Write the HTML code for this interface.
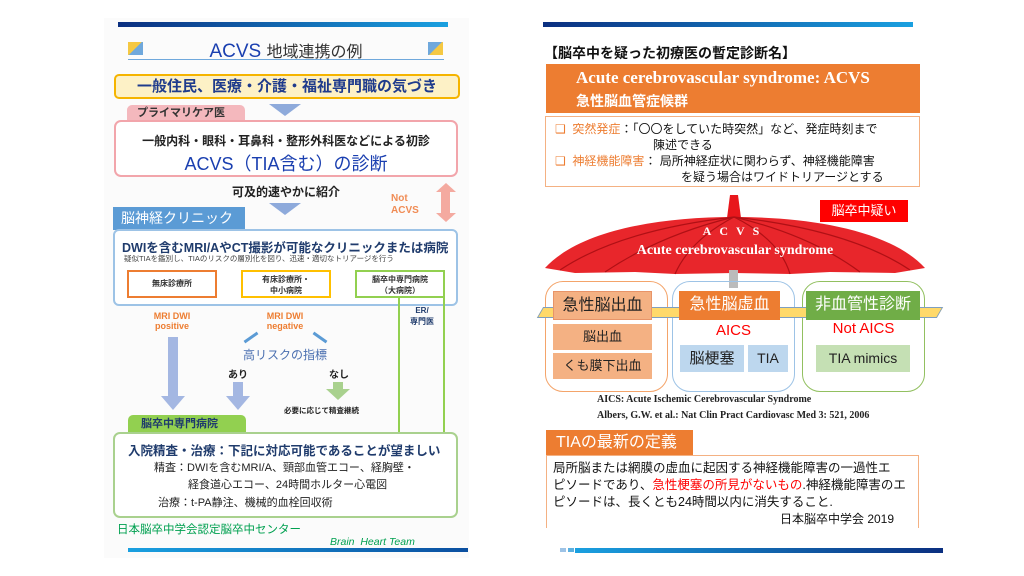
<!DOCTYPE html><html><head><meta charset="utf-8"><style>
*{margin:0;padding:0;box-sizing:border-box}
body{width:1024px;height:576px;background:#fff;position:relative;overflow:hidden;font-family:"Liberation Sans","Noto Sans CJK JP",sans-serif}
.a{position:absolute;white-space:nowrap}
.c{text-align:center}
.b{font-weight:bold}
.ser{font-family:"Liberation Serif","Noto Serif CJK SC",serif}
.dn{position:absolute;width:0;height:0;border-left:16px solid transparent;border-right:16px solid transparent;border-top:12px solid #8eaadb}
</style></head><body>
<!-- LEFT -->
<div class="a" style="left:104px;top:18px;width:365px;height:540px;background:#fbfbfb"></div>
<div class="a" style="left:118px;top:22px;width:330px;height:5px;background:linear-gradient(90deg,#0b2f80,#1aa0e0)"></div>
<div class="a" style="left:128px;top:42px;width:15px;height:13px;background:linear-gradient(135deg,#f5c842 50%,#6fa8dc 50%)"></div>
<div class="a" style="left:428px;top:42px;width:15px;height:13px;background:linear-gradient(135deg,#6fa8dc 50%,#f5c842 50%)"></div>
<div class="a c" style="left:128px;top:38px;width:316px;font-size:19px;color:#1a3fb0">ACVS <span style="color:#333;font-size:16px">地域連携の例</span></div>
<div class="a" style="left:128px;top:59px;width:316px;height:1px;background:#6fa8dc"></div>
<div class="a c b" style="left:114px;top:74px;width:346px;height:25px;background:#fdf1c6;border:2px solid #f5b400;border-radius:5px;font-size:15px;color:#1f3b8c;line-height:21px">一般住民、医療・介護・福祉専門職の気づき</div>
<div class="dn" style="left:269px;top:104px"></div>
<div class="a b" style="left:127px;top:105px;width:118px;height:16px;background:#f4b8bd;border-radius:5px 5px 0 0;font-size:11px;color:#333;padding-left:10px;line-height:16px">プライマリケア医</div>
<div class="a" style="left:114px;top:120px;width:344px;height:57px;border:2px solid #f2a5ab;border-radius:7px;background:#fff"></div>
<div class="a c b" style="left:114px;top:132px;width:344px;font-size:12px;color:#222">一般内科・眼科・耳鼻科・整形外科医などによる初診</div>
<div class="a c" style="left:114px;top:150px;width:344px;font-size:18px;color:#1a3fb0">ACVS（TIA含む）の診断</div>
<div class="a c b" style="left:114px;top:183px;width:344px;font-size:12px;color:#222">可及的速やかに紹介</div>
<div class="dn" style="left:269px;top:203px"></div>
<div class="a b" style="left:391px;top:193px;font-size:10px;color:#f08c55;line-height:12px">Not<br>ACVS</div>
<div class="a" style="left:441px;top:190px;width:9px;height:25px;background:#f4aaa0"></div>
<div class="a" style="left:436px;top:183px;border-left:10px solid transparent;border-right:10px solid transparent;border-bottom:9px solid #f4aaa0"></div>
<div class="a" style="left:436px;top:213px;border-left:10px solid transparent;border-right:10px solid transparent;border-top:9px solid #f4aaa0"></div>
<div class="a" style="left:113px;top:207px;width:132px;height:23px;background:#5b9bd5;color:#fff;font-size:14px;padding-left:8px;line-height:23px">脳神経クリニック</div>
<div class="a" style="left:113px;top:229px;width:345px;height:77px;border:2px solid #9dc3e6;border-radius:6px;background:#fff"></div>
<div class="a b" style="left:122px;top:237px;font-size:12.5px;color:#1f3b6c">DWIを含むMRI/AやCT撮影が可能なクリニックまたは病院</div>
<div class="a" style="left:124px;top:253px;font-size:7.5px;color:#444">疑似TIAを鑑別し、TIAのリスクの層別化を図り、迅速・適切なトリアージを行う</div>
<div class="a c b" style="left:127px;top:270px;width:90px;height:28px;border:2px solid #ed7d31;font-size:8px;line-height:24px;color:#333">無床診療所</div>
<div class="a c b" style="left:241px;top:270px;width:90px;height:28px;border:2px solid #ffc000;font-size:8px;line-height:11px;padding-top:2px;color:#333;background:#fff">有床診療所・<br>中小病院</div>
<div class="a c b" style="left:355px;top:270px;width:90px;height:28px;border:2px solid #92d050;font-size:8px;line-height:11px;padding-top:2px;color:#333;background:#fff">脳卒中専門病院<br>（大病院）</div>
<div class="a" style="left:398px;top:296px;width:2px;height:137px;background:#92d050"></div>
<div class="a" style="left:443px;top:296px;width:2px;height:137px;background:#92d050"></div>
<div class="a c b" style="left:402px;top:305px;width:40px;font-size:8px;line-height:11px;color:#1f3b6c">ER/<br>専門医</div>
<div class="a c b" style="left:142px;top:311px;width:60px;font-size:9px;line-height:10px;color:#ed7d31">MRI DWI<br>positive</div>
<div class="a c b" style="left:255px;top:311px;width:60px;font-size:9px;line-height:10px;color:#ed7d31">MRI DWI<br>negative</div>
<div class="a" style="left:168px;top:337px;width:10px;height:60px;background:#a4b7e2"></div>
<div class="a" style="left:161px;top:396px;border-left:12px solid transparent;border-right:12px solid transparent;border-top:14px solid #a4b7e2"></div>
<div class="a" style="left:233px;top:382px;width:10px;height:16px;background:#a4b7e2"></div>
<div class="a" style="left:226px;top:396px;border-left:12px solid transparent;border-right:12px solid transparent;border-top:14px solid #a4b7e2"></div>
<div class="a" style="left:333px;top:382px;width:10px;height:8px;background:#a9d18e"></div>
<div class="a" style="left:326px;top:389px;border-left:12px solid transparent;border-right:12px solid transparent;border-top:11px solid #a9d18e"></div>
<div class="a" style="left:243px;top:336px;width:16px;height:3px;background:#5b9bd5;transform:rotate(-35deg)"></div>
<div class="a" style="left:312px;top:336px;width:16px;height:3px;background:#5b9bd5;transform:rotate(35deg)"></div>
<div class="a c" style="left:225px;top:346px;width:120px;font-size:12px;color:#4a6fb0">高リスクの指標</div>
<div class="a b" style="left:228px;top:366px;font-size:10px;color:#222">あり</div>
<div class="a b" style="left:329px;top:366px;font-size:10px;color:#222">なし</div>
<div class="a b" style="left:284px;top:405px;font-size:7.5px;color:#222">必要に応じて精査継続</div>
<div class="a b" style="left:128px;top:415px;width:118px;height:18px;background:#92d050;border-radius:5px 5px 0 0;font-size:11px;color:#1f3b6c;padding-left:13px;line-height:18px">脳卒中専門病院</div>
<div class="a" style="left:113px;top:432px;width:345px;height:86px;border:2px solid #a9d18e;border-radius:7px;background:#fff"></div>
<div class="a b" style="left:128px;top:440px;font-size:12.5px;color:#1f3b6c">入院精査・治療：下記に対応可能であることが望ましい</div>
<div class="a" style="left:154px;top:459px;font-size:11px;color:#222">精査：DWIを含むMRI/A、頸部血管エコー、経胸壁・</div>
<div class="a" style="left:188px;top:476px;font-size:11px;color:#222">経食道心エコー、24時間ホルター心電図</div>
<div class="a" style="left:158px;top:494px;font-size:11px;color:#222">治療：t-PA静注、機械的血栓回収術</div>
<div class="a" style="left:117px;top:521px;font-size:11.5px;color:#00a050">日本脳卒中学会認定脳卒中センター</div>
<div class="a" style="left:330px;top:536px;font-size:10.5px;font-style:italic;color:#00a050">Brain&nbsp; Heart Team</div>
<div class="a" style="left:128px;top:548px;width:340px;height:4px;background:linear-gradient(90deg,#1aa0e0,#0b4fa0)"></div>
<!-- RIGHT -->
<div class="a" style="left:543px;top:22px;width:370px;height:5px;background:linear-gradient(90deg,#0b2f80,#1aa0e0)"></div>
<div class="a b" style="left:544px;top:43px;font-size:14px;color:#111">【脳卒中を疑った初療医の暫定診断名】</div>
<div class="a" style="left:546px;top:64px;width:374px;height:49px;background:#ed7d31"></div>
<div class="a b ser" style="left:576px;top:68px;font-size:17px;color:#fff">Acute cerebrovascular syndrome: ACVS</div>
<div class="a b" style="left:576px;top:91px;font-size:14px;color:#fff">急性脳血管症候群</div>
<div class="a" style="left:545px;top:116px;width:375px;height:71px;border:1px solid #f4b183"></div>
<div class="a" style="left:555px;top:121px;font-size:12px;color:#111;line-height:16px"><span style="color:#ed7d31">❑&nbsp; 突然発症</span>：「〇〇をしていた時突然」など、発症時刻まで<br><span style="padding-left:98px">陳述できる</span><br><span style="color:#ed7d31">❑&nbsp; 神経機能障害</span>：&nbsp;局所神経症状に関わらず、神経機能障害<br><span style="padding-left:126px">を疑う場合はワイドトリアージとする</span></div>
<svg class="a" style="left:540px;top:190px" width="390" height="100" viewBox="0 0 390 100">
<polygon points="190,5 198,5 201,28 187,28" fill="#e8171c"/>
<path d="M5,78 C40,40 120,27 194,27 C270,27 350,40 385,78 L355,83 L290,82 L250,84 L194,83 L135,84 L95,82 L35,83 Z" fill="#e8262b"/>
<g stroke="#b01015" stroke-width="1.2" fill="none"><path d="M194,27 Q120,45 65,82"/><path d="M194,27 Q150,50 135,84"/><path d="M194,27 Q240,50 250,84"/><path d="M194,27 Q270,45 320,82"/><path d="M194,27 Q80,40 20,80"/><path d="M194,27 Q310,40 370,80"/></g>
<rect x="189" y="80" width="9" height="18" fill="#bbb"/>
</svg>
<div class="a c" style="left:820px;top:200px;width:88px;height:22px;background:#ff0000;color:#fff;font-size:13px;line-height:22px">脳卒中疑い</div>
<div class="a c b ser" style="left:630px;top:224px;width:210px;font-size:12px;color:#fff;letter-spacing:8px">ACVS</div>
<div class="a c b ser" style="left:600px;top:243px;width:270px;font-size:14px;color:#fff">Acute cerebrovascular syndrome</div>
<div class="a" style="left:545px;top:281px;width:123px;height:111px;border:1px solid #f4a46a;border-radius:18px"></div>
<div class="a" style="left:672px;top:281px;width:123px;height:111px;border:1px solid #9dc3e6;border-radius:18px"></div>
<div class="a" style="left:802px;top:281px;width:123px;height:111px;border:1px solid #92c060;border-radius:18px"></div>
<div class="a" style="left:540px;top:307px;width:400px;height:11px;background:#ffd96a;transform:skewX(-30deg);border:1px solid #7f9fc0"></div>
<div class="a c" style="left:553px;top:291px;width:99px;height:29px;background:#f4b183;border:1px solid #e89468;font-size:16px;line-height:28px;color:#222">急性脳出血</div>
<div class="a c" style="left:553px;top:324px;width:99px;height:26px;background:#f4b183;font-size:13px;line-height:26px;color:#222">脳出血</div>
<div class="a c" style="left:553px;top:353px;width:99px;height:26px;background:#f4b183;font-size:13px;line-height:26px;color:#222">くも膜下出血</div>
<div class="a c" style="left:679px;top:291px;width:101px;height:29px;background:#ed7d31;font-size:16px;line-height:28px;color:#fff">急性脳虚血</div>
<div class="a c" style="left:672px;top:322px;width:123px;font-size:15px;color:#ff0000">AICS</div>
<div class="a c" style="left:680px;top:345px;width:64px;height:27px;background:#bdd7ee;font-size:15px;line-height:27px;color:#222">脳梗塞</div>
<div class="a c" style="left:748px;top:345px;width:40px;height:27px;background:#bdd7ee;font-size:14px;line-height:27px;color:#222">TIA</div>
<div class="a c" style="left:806px;top:291px;width:114px;height:29px;background:#70ad47;font-size:16px;line-height:28px;color:#fff">非血管性診断</div>
<div class="a c" style="left:802px;top:320px;width:123px;font-size:15px;color:#ff0000">Not AICS</div>
<div class="a c" style="left:816px;top:345px;width:94px;height:27px;background:#c5e0b4;font-size:14px;line-height:27px;color:#222">TIA mimics</div>
<div class="a b ser" style="left:597px;top:394px;font-size:10px;color:#222">AICS: Acute Ischemic Cerebrovascular Syndrome</div>
<div class="a b ser" style="left:597px;top:410px;font-size:10px;color:#222">Albers, G.W. et al.: Nat Clin Pract Cardiovasc Med 3: 521, 2006</div>
<div class="a" style="left:546px;top:430px;width:147px;height:26px;background:#ed7d31;color:#fff;font-size:16px;padding-left:10px;line-height:26px">TIAの最新の定義</div>
<div class="a" style="left:546px;top:455px;width:373px;height:73px;border:1px solid #f4b183;border-bottom:none"></div>
<div class="a" style="left:553px;top:460px;font-size:12.5px;color:#111;line-height:17px">局所脳または網膜の虚血に起因する神経機能障害の一過性エ<br>ピソードであり、<span style="color:#ff0000">急性梗塞の所見がないもの</span>.神経機能障害のエ<br>ピソードは、長くとも24時間以内に消失すること.</div>
<div class="a" style="left:780px;top:510px;font-size:12px;color:#111">日本脳卒中学会 2019</div>
<div class="a" style="left:560px;top:548px;width:6px;height:4px;background:#9dc3e6"></div>
<div class="a" style="left:568px;top:548px;width:6px;height:4px;background:#5bb0e0"></div>
<div class="a" style="left:575px;top:548px;width:368px;height:5px;background:linear-gradient(90deg,#1aa0e0,#0b2f80)"></div>
</body></html>
